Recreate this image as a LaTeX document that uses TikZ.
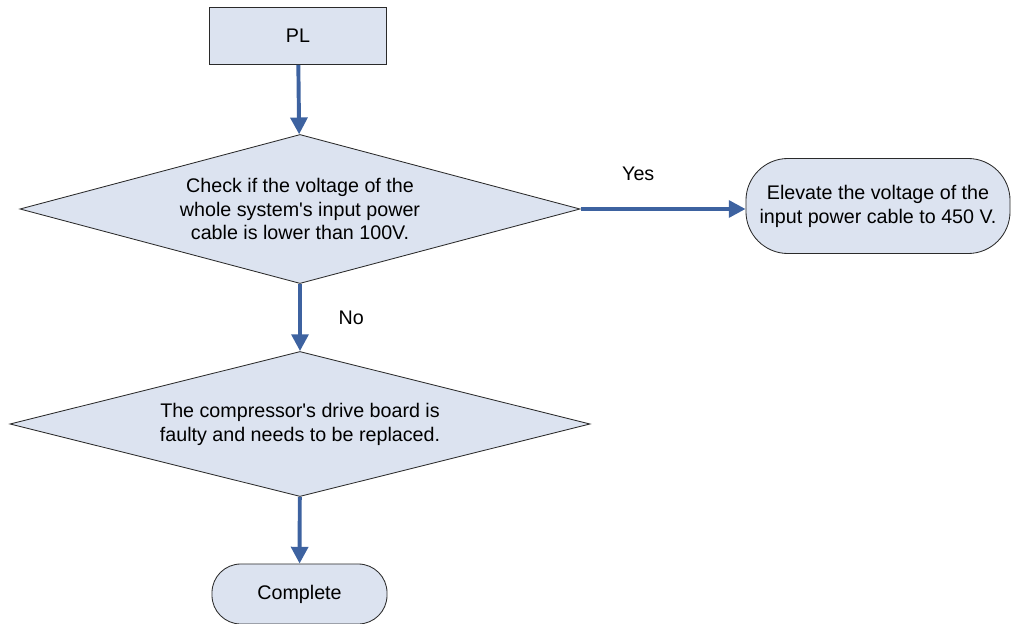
\documentclass[tikz,border=0pt]{standalone}
\usepackage{fontspec}
\setmainfont{Liberation Sans}
\usetikzlibrary{shapes.geometric, arrows.meta}
\definecolor{flow-blue}{HTML}{3D62A0}
\definecolor{box-bg}{HTML}{DCE3F0}
\definecolor{edge-gray}{HTML}{2A2A2A}

\begin{document}
\begin{tikzpicture}[x=0.025cm, y=-0.025cm,
    every node/.style={font=\fontsize{14}{17}\selectfont},
    procbox/.style={draw=edge-gray, line width=0.6pt, fill=box-bg, align=center},
    decision/.style={procbox, shape=diamond, aspect=3.8, inner sep=0pt},
    terminal/.style={procbox, rounded corners=0.72cm},
    flow/.style={-{Triangle[length=0.42cm, width=0.42cm]}, line width=2.8pt, color=flow-blue},
    answer/.style={text=black}]
    \useasboundingbox (0,0) rectangle (1012,624);
    \node[procbox, minimum width=4.425cm, minimum height=1.425cm] (pl) at (298,36) {PL};
    \node[decision, minimum width=14cm, minimum height=3.725cm] (check) at (300,209)
          {Check if the voltage of the\\ whole system\textquotesingle s input power\\ cable is lower than 100V.};
    \node[terminal, rounded corners=1.05cm, minimum width=6.6cm, minimum height=2.375cm] (raise) at (878,206)
          {Elevate the voltage of the\\ input power cable to 450 V.};
    \node[decision, minimum width=14.5cm, minimum height=3.625cm] (board) at (300,424)
          {The compressor\textquotesingle s drive board is\\ faulty and needs to be replaced.};
    \node[terminal, minimum width=4.375cm, minimum height=1.5cm] (done) at (299.5,594) {Complete};
    \draw[flow] (pl) -- (check);
    \draw[flow] (check.east) -- (check.east -| raise.west)
      node[answer, pos=0.35, above=0.55cm] {Yes};
    \draw[flow] (check) -- (board)
      node[answer, midway, right=0.8cm] {No};
    \draw[flow] (board) -- (done);
  \end{tikzpicture}
\end{document}
